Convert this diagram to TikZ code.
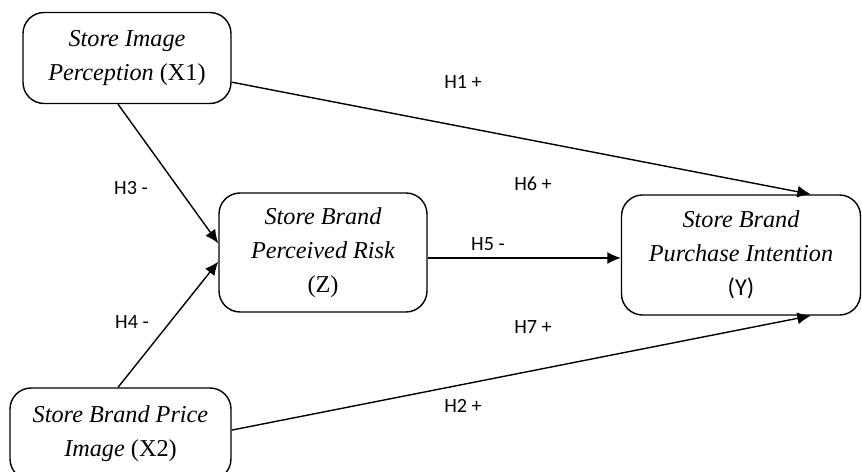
\documentclass[tikz,border=0pt]{standalone}
\usepackage{fontspec}
\setmainfont{Liberation Serif}
\newfontfamily\labelfont{Carlito}
\usetikzlibrary{arrows.meta,positioning}
\tikzset{%
	construct/.style = {draw, rectangle, rounded corners=12pt, thick, align=center, font=\fontsize{13.8}{19.5}\selectfont\itshape, inner sep=0pt},
	hyp/.style       = {font=\labelfont\fontsize{11.5}{14}\selectfont, inner sep=1pt},
	arrow/.style     = {thick,-{Latex[length=0.27cm,width=0.24cm]}},
}
\begin{document}
\begin{tikzpicture}[x=0.02cm, y=-0.02cm]
	\useasboundingbox (0,0) rectangle (862,472);
	\node[construct, minimum width=208*0.02cm, minimum height=91*0.02cm] (x1) at (127,58) {Store Image\\Perception \textup{(X1)}};
	\node[construct, minimum width=208*0.02cm, minimum height=119*0.02cm] (z) at (323,252.5) {Store Brand\\Perceived Risk\\\textup{(Z)}};
	\node[construct, minimum width=239*0.02cm, minimum height=120*0.02cm] (y) at (741,255) {Store Brand\\Purchase Intention\\\textup{\labelfont (Y)}};
	\node[construct, minimum width=221*0.02cm, minimum height=92*0.02cm] (x2) at (120.5,434) {Store Brand Price\\Image \textup{(X2)}};
	
	% paths
	\draw[arrow] (x1.-13.5) -- (y.41.8);
	\draw[arrow] (x1.-101) -- (z.175.9);
	\draw[arrow] (x2.93) -- (z.185.8);
	\draw[arrow] (z.-3.6) -- (z.-3.6 -| y.west);
	\draw[arrow] (x2.2.6) -- (y.-41.8);
	
	% hypotheses
	\node[hyp] (h1) at (463,82) {H1 +};
	\node[hyp] (h3) at (131,188) {H3 -};
	\node[hyp] (h6) at (533,184) {H6 +};
	\node[hyp] (h5) at (488,244) {H5 -};
	\node[hyp] (h4) at (132,322) {H4 -};
	\node[hyp] (h7) at (533,327) {H7 +};
	\node[hyp] (h2) at (463,406) {H2 +};
\end{tikzpicture}
\end{document}
